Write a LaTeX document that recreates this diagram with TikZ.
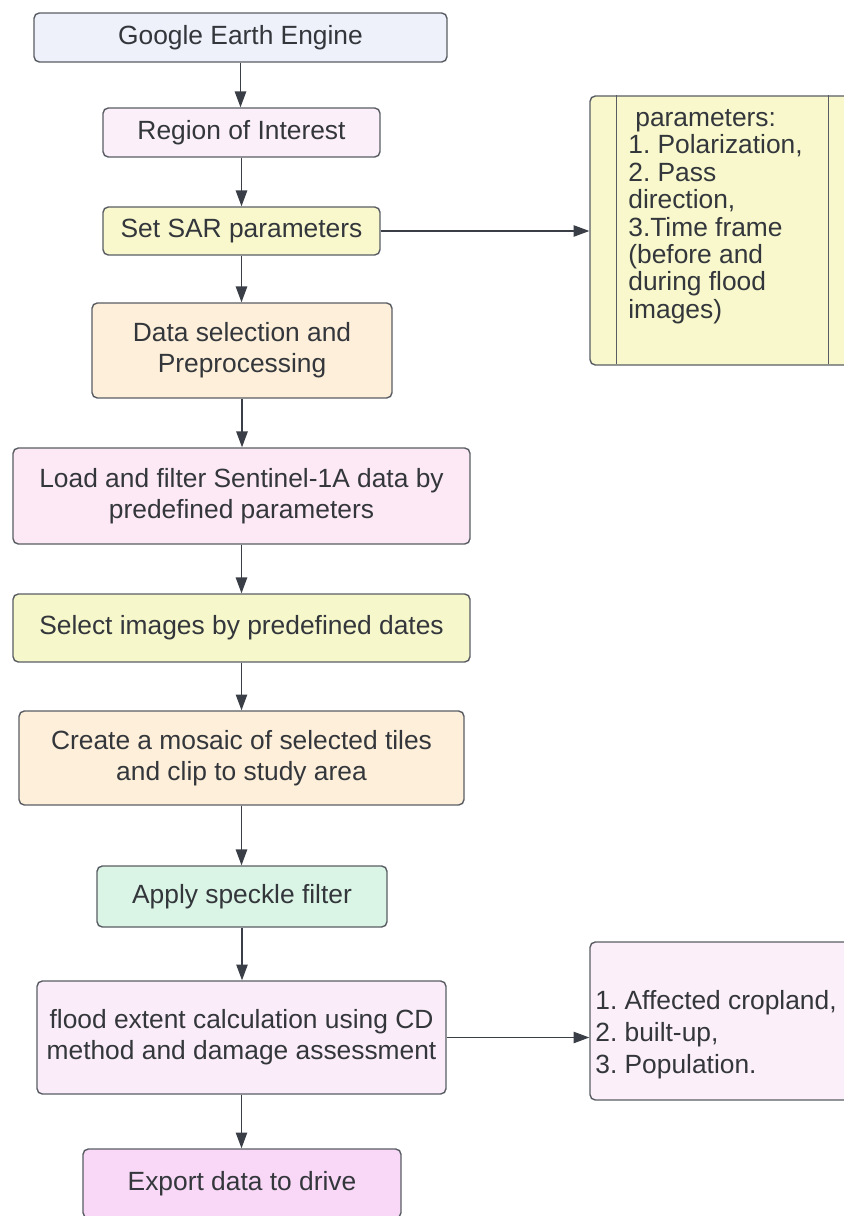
\documentclass[tikz,border=0pt]{standalone}
\usepackage{fontspec}
\setmainfont{Liberation Sans}
\usetikzlibrary{arrows.meta}

\definecolor{lineg}{HTML}{595D63}
\definecolor{arrowg}{HTML}{3A3F47}
\definecolor{textg}{HTML}{33363B}
\definecolor{geeblue}{HTML}{EEF0FA}
\definecolor{roipink}{HTML}{FBEFF9}
\definecolor{saryellow}{HTML}{F8F8CC}
\definecolor{prepeach}{HTML}{FDEFD9}
\definecolor{loadpink}{HTML}{FCE9F5}
\definecolor{selyellow}{HTML}{F6F7CB}
\definecolor{speckmint}{HTML}{DAF5E5}
\definecolor{floodpink}{HTML}{FAEDF9}
\definecolor{exportpink}{HTML}{F8D8F6}

\begin{document}
\frenchspacing
\begin{tikzpicture}[x=0.02cm, y=-0.02cm,
  box/.style = {draw=lineg, line width=0.8pt, rounded corners=3pt, text=textg,
                align=center, inner sep=0pt, font=\fontsize{15}{17.5}\selectfont},
  flow/.style = {draw=arrowg, line width=0.75pt, -{Triangle[length=9pt,width=6.5pt]}},
  note/.style = {text=textg, align=left, inner sep=0pt, anchor=north west},
  ]
  \useasboundingbox (0,0) rectangle (844,1216);
  \clip (0,0) rectangle (844,1216);

  \node[box, fill=geeblue, minimum width=8.26cm, minimum height=0.98cm] (gee) at (240.5,37.5) {Google Earth Engine};
  \node[box, fill=roipink, minimum width=5.54cm, minimum height=0.98cm] (roi) at (241.5,132.5) {Region of Interest};
  \node[box, fill=saryellow, minimum width=5.54cm, minimum height=0.96cm] (sar) at (241.5,231) {Set SAR parameters};
  \node[box, fill=prepeach, minimum width=6cm, minimum height=1.9cm] (dsel) at (242,350.5) {Data selection and\\Preprocessing};
  \node[box, fill=loadpink, minimum width=9.14cm, minimum height=1.92cm] (load) at (241.5,496) {Load and filter Sentinel-1A data by\\predefined parameters};
  \node[box, fill=selyellow, minimum width=9.14cm, minimum height=1.36cm] (sel) at (241.5,628) {Select images by predefined dates};
  \node[box, fill=prepeach, minimum width=8.9cm, minimum height=1.88cm] (mosaic) at (241.5,758) {Create a mosaic of selected tiles\\and clip to study area};
  \node[box, fill=speckmint, minimum width=5.8cm, minimum height=1.22cm] (speckle) at (242,896.5) {Apply speckle filter};
  \node[box, fill=floodpink, minimum width=8.18cm, minimum height=2.26cm] (flood) at (241.5,1037.5) {flood extent calculation using CD\\method and damage assessment};
  \node[box, fill=exportpink, minimum width=6.36cm, minimum height=1.38cm] (export) at (242,1183.5) {Export data to drive};

  \node[box, fill=saryellow, minimum width=5.6cm, minimum height=5.38cm] (prm) at (730,230.5) {};
  \draw[lineg, line width=0.8pt] (prm.north west) ++(27,0) -- ++(0,269);
  \draw[lineg, line width=0.8pt] (prm.north west) ++(239,0) -- ++(0,269);
  \node[note, font=\fontsize{15}{15.6}\selectfont] (prmtext) at (628,107)
    {\strut\hspace*{4pt}parameters:\\1. Polarization,\\2. Pass\\direction,\\3.Time frame\\(before and\\during flood\\images)};

  \node[box, fill=roipink, minimum width=5.6cm, minimum height=3.16cm] (dmg) at (730,1021) {};
  \node[note, font=\fontsize{15}{18.1}\selectfont] (dmgtext) at (595,987)
    {\strut 1. Affected cropland,\\2. built-up,\\3. Population.};

  \foreach \a/\b in {gee/roi, roi/sar, sar/dsel, dsel/load, load/sel, sel/mosaic, mosaic/speckle, speckle/flood, flood/export}
    \draw[flow] (\a.south) -- (\a.south |- \b.north);
  \draw[flow] (sar.east) -- (sar.east -| prm.west);
  \draw[flow] (flood.east) -- (flood.east -| dmg.west);
\end{tikzpicture}
\end{document}
